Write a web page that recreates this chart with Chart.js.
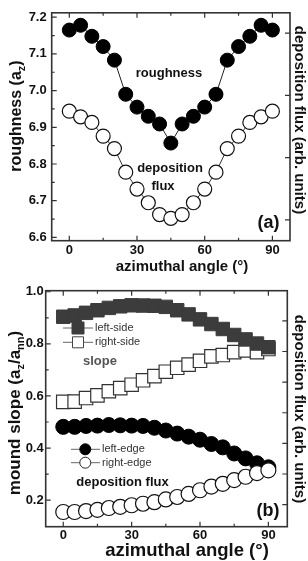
<!DOCTYPE html>
<html>
<head>
<meta charset="utf-8">
<script src="https://cdn.jsdelivr.net/npm/chart.js@4.4.1/dist/chart.umd.min.js"></script>
<style>
  html, body { margin: 0; padding: 0; background: #fff; }
  #wrap { position: relative; width: 308px; height: 561px; overflow: hidden; }
  canvas { position: absolute; left: 0; }
  #chartA { top: 0; }
  #chartB { top: 280px; }
</style>
</head>
<body>
<div id="wrap">
  <canvas id="chartA" width="308" height="280"></canvas>
  <canvas id="chartB" width="308" height="281"></canvas>
</div>
<script>
// azimuthal angle (deg), shared by every series
var angles = [0, 5, 10, 15, 20, 25, 30, 35, 40, 45, 50, 55, 60, 65, 70, 75, 80, 85, 90];

// panel (a): roughness in a_z (left axis), deposition flux in arb. units (right axis)
var roughness = [7.165, 7.178, 7.148, 7.120, 7.083, 6.990, 6.955, 6.930, 6.909, 6.857,
                 6.909, 6.930, 6.955, 6.990, 7.083, 7.120, 7.148, 7.178, 7.165];
var fluxA = [2.08, 1.99, 1.90, 1.68, 1.48, 1.10, 0.83, 0.61, 0.42, 0.36,
             0.42, 0.61, 0.83, 1.10, 1.48, 1.68, 1.90, 1.99, 2.08];

// panel (b): mound slope (left axis), edge deposition flux (right axis)
var leftSide = [0.904, 0.909, 0.919, 0.929, 0.938, 0.944, 0.948, 0.947, 0.946, 0.942,
                0.929, 0.913, 0.894, 0.876, 0.857, 0.834, 0.817, 0.801, 0.787];
var rightSide = [0.577, 0.578, 0.592, 0.602, 0.618, 0.630, 0.643, 0.660, 0.676, 0.693,
                 0.708, 0.720, 0.735, 0.752, 0.757, 0.768, 0.775, 0.768, 0.780];
var leftEdge = [3.26, 3.26, 3.29, 3.30, 3.32, 3.31, 3.30, 3.29, 3.23, 3.14,
                3.04, 2.94, 2.84, 2.70, 2.59, 2.39, 2.23, 2.07, 1.94];
var rightEdge = [0.48, 0.48, 0.51, 0.55, 0.61, 0.65, 0.70, 0.75, 0.80, 0.89,
                 0.97, 1.07, 1.19, 1.31, 1.40, 1.52, 1.63, 1.75, 1.84];

// ticks
var xTicks = [0, 30, 60, 90];
var xMinorTicks = [15, 45, 75];
var yTicksA = [6.6, 6.7, 6.8, 6.9, 7.0, 7.1, 7.2];
var yMinorTicksA = [6.65, 6.75, 6.85, 6.95, 7.05, 7.15];
var y2TicksA = [0.333, 1.333, 2.333, 3.333];
var yTicksB = [0.2, 0.4, 0.6, 0.8, 1.0];
var yMinorTicksB = [0.3, 0.5, 0.7, 0.9];
var y2TicksB = [0.72, 1.72, 2.72, 3.72, 4.72, 5.72, 6.72];

var FONT = "'Liberation Sans', Arial, Helvetica, sans-serif";
var tickFont = { family: FONT, size: 13, weight: 'bold' };

function toPoints(ys) {
    var out = [];
    for (var i = 0; i < angles.length; i++) {
        out.push({ x: angles[i], y: ys[i] });
    }
    return out;
}

function setTicks(values) {
    return function (scale) {
        scale.ticks = values.map(function (v) { return { value: v }; });
    };
}

function buildScales(p) {
    return {
        x: {
            type: 'linear', position: 'bottom', min: p.xMin, max: p.xMax,
            afterBuildTicks: setTicks(xTicks),
            afterFit: function (s) { s.height = p.xHeight; },
            grid: { display: false, drawTicks: false },
            border: { display: false },
            ticks: { font: tickFont, color: '#111', padding: p.xPad, maxRotation: 0, autoSkip: false }
        },
        y: {
            type: 'linear', position: 'left', min: p.yMin, max: p.yMax,
            afterBuildTicks: setTicks(p.yTicks),
            afterFit: function (s) { s.width = p.yWidth; },
            grid: { display: false, drawTicks: false },
            border: { display: false },
            ticks: {
                font: tickFont, color: '#111', padding: p.yPad, autoSkip: false,
                callback: function (v) { return v.toFixed(1); }
            }
        },
        y2: {
            type: 'linear', position: 'right', min: 0, max: p.y2Max,
            afterBuildTicks: setTicks(p.y2Ticks),
            afterFit: function (s) { s.width = p.y2Width; },
            grid: { display: false, drawTicks: false },
            border: { display: false },
            ticks: { display: false }
        }
    };
}

function drawRich(ctx, parts, x, y, rot) {
    ctx.save();
    ctx.translate(x, y);
    ctx.rotate(rot);
    ctx.textBaseline = 'alphabetic';
    ctx.textAlign = 'left';
    ctx.fillStyle = '#111';
    var total = 0;
    parts.forEach(function (pt) {
        ctx.font = 'bold ' + pt[1] + 'px ' + FONT;
        total += ctx.measureText(pt[0]).width;
    });
    var cx = -total / 2;
    parts.forEach(function (pt) {
        ctx.font = 'bold ' + pt[1] + 'px ' + FONT;
        ctx.fillText(pt[0], cx, pt[2]);
        cx += ctx.measureText(pt[0]).width;
    });
    ctx.restore();
}

function drawLabel(ctx, t) {
    ctx.save();
    ctx.font = (t.bold === false ? '' : 'bold ') + t.size + 'px ' + FONT;
    ctx.fillStyle = t.color || '#111';
    ctx.textAlign = t.align || 'center';
    ctx.textBaseline = t.base || 'middle';
    ctx.fillText(t.text, t.x, t.y);
    ctx.restore();
}

function drawLegendEntry(ctx, e) {
    ctx.save();
    ctx.strokeStyle = '#666';
    ctx.lineWidth = 1;
    ctx.beginPath();
    ctx.moveTo(e.x0, e.y);
    ctx.lineTo(e.x1, e.y);
    ctx.stroke();
    ctx.fillStyle = e.fill;
    ctx.strokeStyle = e.stroke;
    ctx.beginPath();
    if (e.shape === 'rect') {
        ctx.rect(e.mx - e.size / 2, e.y - e.size / 2, e.size, e.size);
    } else {
        ctx.arc(e.mx, e.y, e.size / 2, 0, Math.PI * 2);
    }
    ctx.fill();
    ctx.stroke();
    ctx.restore();
    drawLabel(ctx, { text: e.label, x: e.x1 + 2, y: e.y, size: 11, bold: false, color: '#333', align: 'left' });
}

function decorPlugin(p) {
    return {
        id: 'decor' + p.name,
        afterDatasetsDraw: function (chart) {
            var ctx = chart.ctx, a = chart.chartArea;
            var sx = chart.scales.x, sy = chart.scales.y, sy2 = chart.scales.y2;
            ctx.save();
            ctx.strokeStyle = '#333';
            ctx.lineWidth = 1.2;
            ctx.beginPath();
            function xt(vals, len) {
                vals.forEach(function (v) {
                    var px = sx.getPixelForValue(v);
                    ctx.moveTo(px, a.bottom); ctx.lineTo(px, a.bottom - len);
                    ctx.moveTo(px, a.top); ctx.lineTo(px, a.top + len);
                });
            }
            function yt(scale, vals, len, right) {
                vals.forEach(function (v) {
                    var py = scale.getPixelForValue(v);
                    if (right) { ctx.moveTo(a.right, py); ctx.lineTo(a.right - len, py); }
                    else { ctx.moveTo(a.left, py); ctx.lineTo(a.left + len, py); }
                });
            }
            xt(xTicks, 5);
            xt(xMinorTicks, 3);
            yt(sy, p.yTicks, 5, false);
            yt(sy, p.yMinor, 3, false);
            yt(sy2, p.y2Ticks, 5, true);
            ctx.stroke();
            ctx.lineWidth = 1.6;
            ctx.strokeRect(a.left, a.top, a.right - a.left, a.bottom - a.top);
            ctx.restore();
        },
        afterDraw: function (chart) {
            var ctx = chart.ctx;
            drawRich(ctx, p.yTitle, p.yTitleX, p.yTitleY, -Math.PI / 2);
            drawRich(ctx, [['deposition flux (arb. units)', 15, 0]], 294.5, p.y2TitleY, Math.PI / 2);
            drawRich(ctx, [['azimuthal angle (\u00b0)', p.xTitleSize, 0]], p.xTitleX, p.xTitleY, 0);
            p.texts.forEach(function (t) { drawLabel(ctx, t); });
            p.legend.forEach(function (e) { drawLegendEntry(ctx, e); });
        }
    };
}

function makePanel(canvasId, p, datasets) {
    return new Chart(document.getElementById(canvasId), {
        type: 'scatter',
        data: { datasets: datasets },
        options: {
            responsive: false,
            animation: false,
            events: [],
            devicePixelRatio: 1,
            layout: { padding: { top: p.topPad, left: 0, right: 0, bottom: 0 } },
            plugins: { legend: { display: false }, tooltip: { enabled: false } },
            scales: buildScales(p)
        },
        plugins: [decorPlugin(p)]
    });
}

var panelA = {
    name: 'A', xMin: -7.8, xMax: 97.8, yMin: 6.591, yMax: 7.212, y2Max: 3.661,
    yTicks: yTicksA, yMinor: yMinorTicksA, y2Ticks: y2TicksA,
    yWidth: 51.7, y2Width: 18, xHeight: 39.3, topPad: 2, xPad: 2, yPad: 5,
    yTitle: [['roughness (a', 16, 0], ['z', 11, 4], [')', 16, 0]],
    yTitleX: 21, yTitleY: 116, y2TitleY: 120,
    xTitleX: 182, xTitleY: 271, xTitleSize: 15,
    texts: [
        { text: 'roughness', x: 169, y: 73, size: 13 },
        { text: 'deposition', x: 170, y: 168, size: 13 },
        { text: 'flux', x: 163, y: 186, size: 13 },
        { text: '(a)', x: 268.5, y: 223, size: 18 }
    ],
    legend: []
};

var panelB = {
    name: 'B', xMin: -7.7, xMax: 98.3, yMin: 0.098, yMax: 1.004, y2Max: 7.705,
    yTicks: yTicksB, yMinor: yMinorTicksB, y2Ticks: y2TicksB,
    yWidth: 45.7, y2Width: 20.7, xHeight: 34.3, topPad: 4, xPad: 1, yPad: 2,
    yTitle: [['mound slope (a', 17, 0], ['z', 11, 4], ['/a', 17, 0], ['nn', 11, 4], [')', 17, 0]],
    yTitleX: 20, yTitleY: 133, y2TitleY: 129,
    xTitleX: 187, xTitleY: 276, xTitleSize: 18.5,
    texts: [
        { text: 'slope', x: 100, y: 81, size: 13, color: '#555' },
        { text: 'deposition flux', x: 122.5, y: 202, size: 13 },
        { text: '(b)', x: 268, y: 231.5, size: 18 }
    ],
    legend: [
        { shape: 'rect', fill: '#3c3c3c', stroke: '#3c3c3c', size: 12, x0: 63, x1: 93, mx: 78, y: 48, label: 'left-side' },
        { shape: 'rect', fill: '#fff', stroke: '#444', size: 11, x0: 63, x1: 93, mx: 78, y: 62.3, label: 'right-side' },
        { shape: 'circle', fill: '#000', stroke: '#000', size: 11, x0: 71, x1: 100, mx: 85.3, y: 169.3, label: 'left-edge' },
        { shape: 'circle', fill: '#fff', stroke: '#222', size: 11, x0: 71, x1: 100, mx: 85.3, y: 182.7, label: 'right-edge' }
    ]
};

makePanel('chartA', panelA, [
    {
        label: 'roughness', data: toPoints(roughness), yAxisID: 'y', showLine: true,
        borderColor: '#222', borderWidth: 1,
        pointStyle: 'circle', pointRadius: 7,
        pointBackgroundColor: '#000', pointBorderColor: '#000', pointBorderWidth: 1
    },
    {
        label: 'deposition flux', data: toPoints(fluxA), yAxisID: 'y2', showLine: true,
        borderColor: '#333', borderWidth: 1,
        pointStyle: 'circle', pointRadius: 7,
        pointBackgroundColor: '#fff', pointBorderColor: '#111', pointBorderWidth: 1.2
    }
]);

makePanel('chartB', panelB, [
    {
        label: 'right-edge', data: toPoints(rightEdge), yAxisID: 'y2', showLine: true,
        borderColor: '#555', borderWidth: 1,
        pointStyle: 'circle', pointRadius: 7.5,
        pointBackgroundColor: '#fff', pointBorderColor: '#111', pointBorderWidth: 1.2
    },
    {
        label: 'left-edge', data: toPoints(leftEdge), yAxisID: 'y2', showLine: true,
        borderColor: '#555', borderWidth: 1,
        pointStyle: 'circle', pointRadius: 7.5,
        pointBackgroundColor: '#000', pointBorderColor: '#000', pointBorderWidth: 1
    },
    {
        label: 'left-side', data: toPoints(leftSide), yAxisID: 'y', showLine: true,
        borderColor: '#555', borderWidth: 1,
        pointStyle: 'rect', pointRadius: 9.5,
        pointBackgroundColor: '#3c3c3c', pointBorderColor: '#3c3c3c', pointBorderWidth: 1
    },
    {
        label: 'right-side', data: toPoints(rightSide), yAxisID: 'y', showLine: true,
        borderColor: '#555', borderWidth: 1,
        pointStyle: 'rect', pointRadius: 9.5,
        pointBackgroundColor: '#fff', pointBorderColor: '#333', pointBorderWidth: 1.2
    }
]);
</script>
</body>
</html>
